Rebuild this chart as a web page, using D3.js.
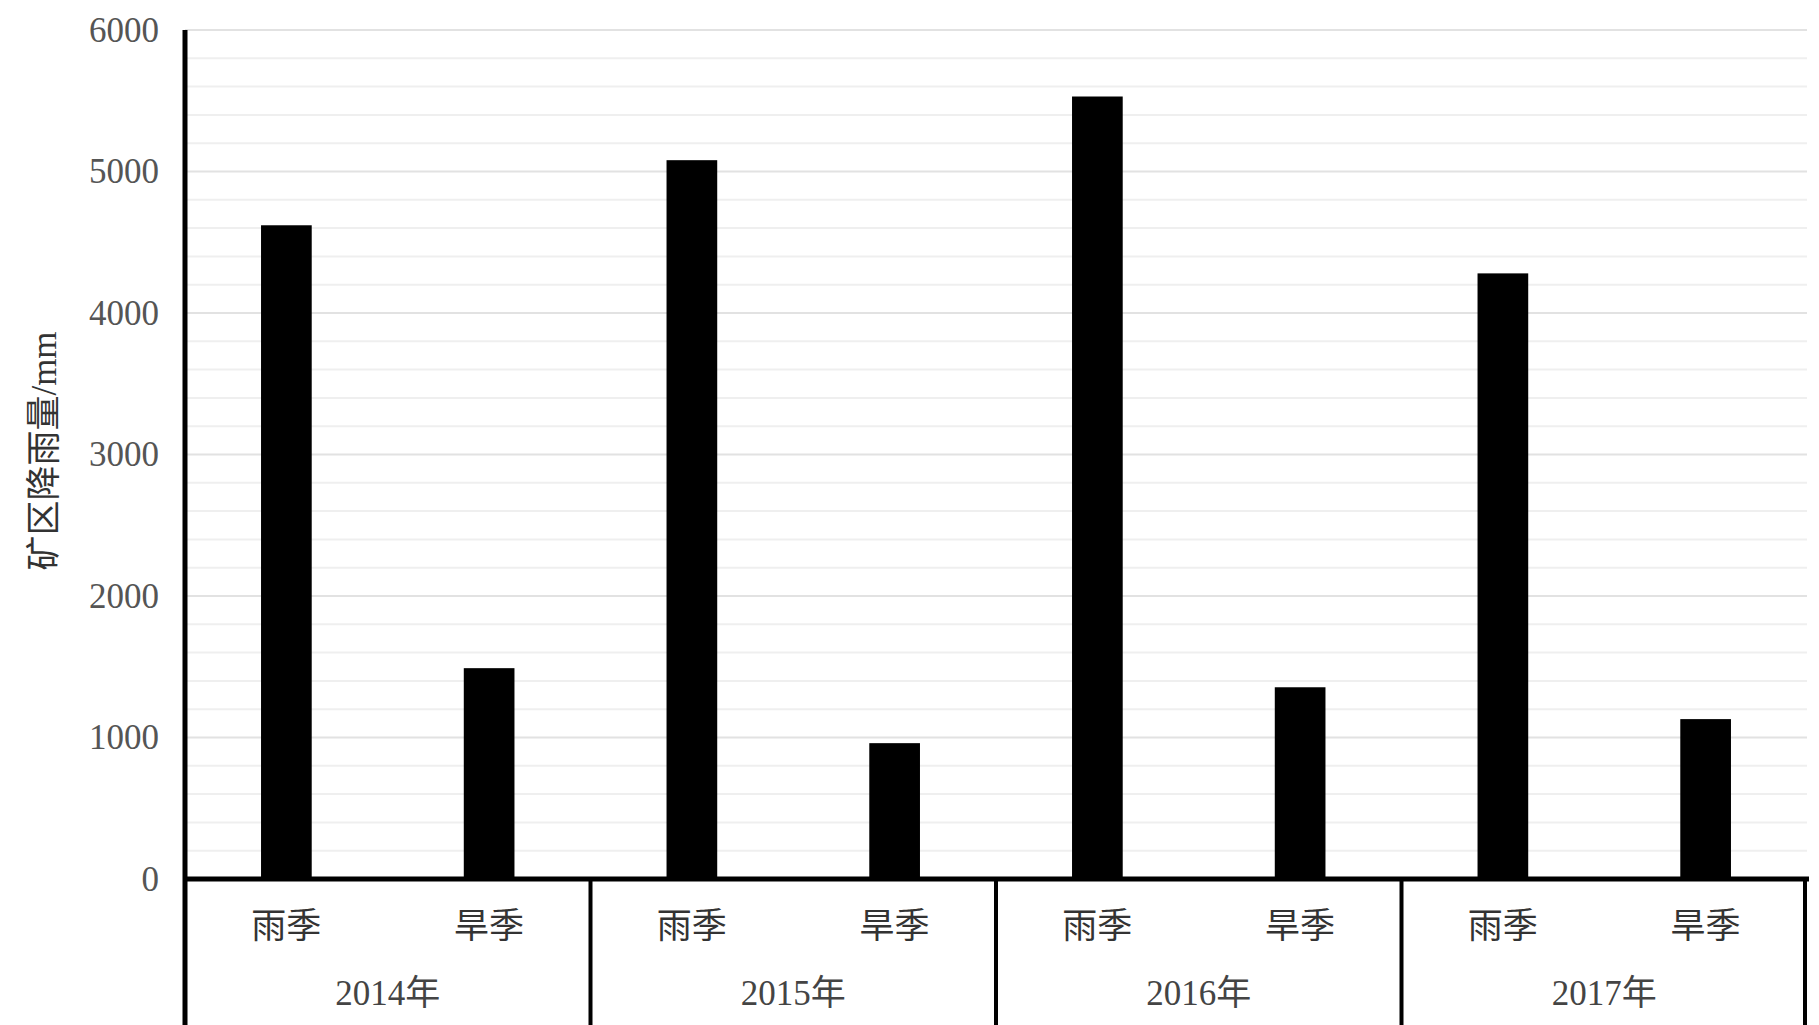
<!DOCTYPE html>
<html>
<head>
<meta charset="utf-8">
<script src="https://cdn.jsdelivr.net/npm/d3@7"></script>
<style>
    html, body { margin: 0; padding: 0; background: #fff; }
    svg { display: block; }
    text { font-family: "Liberation Serif", "Noto Sans CJK SC", serif; }
</style>
</head>
<body>
<div id="chart"></div>
<script>
// data (mm)
const years = ['2014年', '2015年', '2016年', '2017年'];
const seasons = ['雨季', '旱季'];
const rainySeason = [4620, 5080, 5530, 4280];
const drySeason = [1490, 960, 1355, 1130];
const yTicks = [0, 1000, 2000, 3000, 4000, 5000, 6000];

const width = 1819;
const height = 1025;
const margin = {top: 30, right: 12, bottom: 146, left: 185};

const rows = [];
years.forEach(function(y, i) {
    rows.push({year: y, season: seasons[0], value: rainySeason[i]});
    rows.push({year: y, season: seasons[1], value: drySeason[i]});
});

const svg = d3.select('#chart').append('svg')
    .attr('width', width)
    .attr('height', height);

const x = d3.scaleBand()
    .domain(rows.map(function(d) { return d.year + d.season; }))
    .range([margin.left, width - margin.right])
    .paddingInner(0.75)
    .paddingOuter(0.375);

const yearX = d3.scaleBand()
    .domain(years)
    .range([margin.left, width - margin.right]);

const y = d3.scaleLinear()
    .domain([0, 6000])
    .range([height - margin.bottom, margin.top]);

// gridlines, minor every 200
const grid = svg.append('g');
grid.selectAll('line')
    .data(d3.range(200, 6001, 200))
    .enter().append('line')
    .attr('x1', margin.left)
    .attr('x2', width - margin.right)
    .attr('y1', function(d) { return y(d); })
    .attr('y2', function(d) { return y(d); })
    .attr('stroke', function(d) { return d % 1000 === 0 ? '#e2e2e2' : '#efefef'; })
    .attr('stroke-width', 2);

// bars
svg.append('g').selectAll('rect')
    .data(rows)
    .enter().append('rect')
    .attr('x', function(d) { return x(d.year + d.season); })
    .attr('width', x.bandwidth())
    .attr('y', function(d) { return y(d.value); })
    .attr('height', function(d) { return y(0) - y(d.value); })
    .attr('fill', '#000');

// y axis
const yAxis = svg.append('g')
    .attr('transform', 'translate(' + margin.left + ',0)')
    .call(d3.axisLeft(y).tickValues(yTicks).tickFormat(d3.format('d')).tickSize(0).tickPadding(26));
yAxis.select('.domain').remove();
yAxis.selectAll('text')
    .attr('font-size', 35)
    .attr('fill', '#555')
    .style('font-family', '"Liberation Serif", serif');

svg.append('line')
    .attr('x1', margin.left).attr('x2', margin.left)
    .attr('y1', y(6000)).attr('y2', height)
    .attr('stroke', '#000').attr('stroke-width', 5);

// baseline
svg.append('line')
    .attr('x1', margin.left - 2).attr('x2', width - margin.right + 2)
    .attr('y1', y(0)).attr('y2', y(0))
    .attr('stroke', '#000').attr('stroke-width', 5);

// year dividers below axis
svg.append('g').selectAll('line')
    .data(years.concat(['end']))
    .enter().append('line')
    .attr('x1', function(d) { return d === 'end' ? width - margin.right - 2 : yearX(d); })
    .attr('x2', function(d) { return d === 'end' ? width - margin.right - 2 : yearX(d); })
    .attr('y1', y(0))
    .attr('y2', height)
    .attr('stroke', '#000')
    .attr('stroke-width', 4);

// season labels
svg.append('g').selectAll('text')
    .data(rows)
    .enter().append('text')
    .attr('x', function(d) { return x(d.year + d.season) + x.bandwidth() / 2; })
    .attr('y', y(0) + 47)
    .attr('dy', '0.35em')
    .attr('text-anchor', 'middle')
    .attr('font-size', 35)
    .attr('fill', '#333')
    .style('font-family', '"Noto Sans CJK SC", sans-serif')
    .text(function(d) { return d.season; });

// year labels
svg.append('g').selectAll('text')
    .data(years)
    .enter().append('text')
    .attr('x', function(d) { return yearX(d) + yearX.bandwidth() / 2; })
    .attr('y', y(0) + 114)
    .attr('dy', '0.35em')
    .attr('text-anchor', 'middle')
    .attr('font-size', 35)
    .attr('fill', '#444')
    .text(function(d) { return d; });

// y axis title
svg.append('text')
    .attr('transform', 'translate(44,' + 451 + ') rotate(-90)')
    .attr('text-anchor', 'middle')
    .attr('dy', '0.35em')
    .attr('font-size', 35)
    .attr('fill', '#333')
    .text('矿区降雨量/mm');
</script>
</body>
</html>
